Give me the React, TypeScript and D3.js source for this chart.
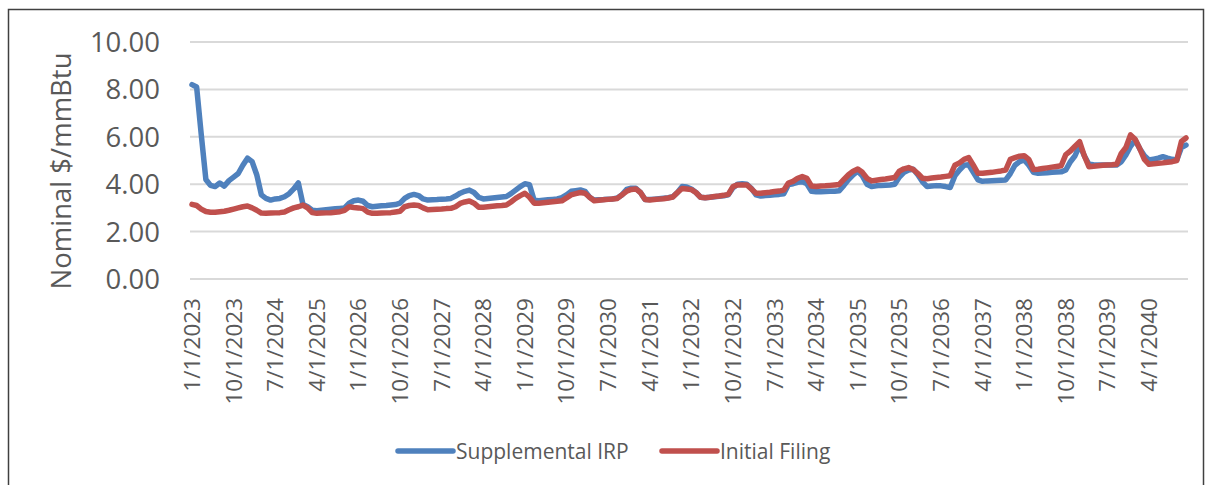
import React, { useEffect, useRef } from "react";
import * as d3 from "d3";

// monthly prices, Jan 2023 .. Dec 2040 (one row per year)
const supplementalIRP: number[] = [
  8.2, 8.1, 6.1, 4.2, 3.95, 3.9, 4.05, 3.92, 4.15, 4.3, 4.45, 4.8,
  5.1, 4.95, 4.4, 3.55, 3.4, 3.33, 3.38, 3.4, 3.47, 3.6, 3.8, 4.05,
  3.15, 3.05, 2.9, 2.88, 2.9, 2.92, 2.94, 2.96, 2.98, 3.0, 3.2, 3.3,
  3.33, 3.28, 3.1, 3.05, 3.07, 3.09, 3.1, 3.12, 3.14, 3.2, 3.4, 3.52,
  3.57, 3.52, 3.38, 3.33, 3.34, 3.35, 3.37, 3.38, 3.4, 3.5, 3.62, 3.7,
  3.75, 3.65, 3.45, 3.38, 3.4, 3.42, 3.44, 3.46, 3.48, 3.6, 3.75, 3.9,
  4.02, 3.98, 3.32, 3.3, 3.32, 3.34, 3.36, 3.38, 3.43, 3.55, 3.7, 3.73,
  3.76, 3.7, 3.45, 3.33, 3.34, 3.35, 3.37, 3.38, 3.42, 3.55, 3.78, 3.83,
  3.83, 3.65, 3.35, 3.35, 3.37, 3.39, 3.41, 3.43, 3.47, 3.65, 3.9, 3.88,
  3.8, 3.65, 3.45, 3.43, 3.45, 3.47, 3.49, 3.51, 3.55, 3.85, 4.0, 4.02,
  4.0, 3.82, 3.55, 3.5, 3.52, 3.53, 3.55, 3.57, 3.6, 3.98, 4.02, 4.08,
  4.1, 4.02, 3.7, 3.68, 3.68, 3.69, 3.7, 3.7, 3.72, 3.95, 4.2, 4.4,
  4.55, 4.35, 4.0, 3.9, 3.93, 3.95, 3.96, 3.97, 4.0, 4.3, 4.5, 4.6,
  4.63, 4.4, 4.1, 3.9, 3.92, 3.94, 3.93, 3.9, 3.86, 4.35, 4.6, 4.8,
  4.82, 4.5, 4.18, 4.12, 4.14, 4.15, 4.16, 4.17, 4.18, 4.45, 4.8, 4.95,
  5.02, 4.8, 4.5, 4.46, 4.47, 4.48, 4.5, 4.51, 4.52, 4.6, 4.95, 5.2,
  5.65, 5.2, 4.84, 4.82, 4.81, 4.81, 4.81, 4.81, 4.81, 4.95, 5.23, 5.6,
  5.86, 5.5, 5.2, 5.02, 5.06, 5.1, 5.16, 5.1, 5.05, 5.02, 5.55, 5.65,
];

const initialFiling: number[] = [
  3.15, 3.1, 2.95, 2.85, 2.82, 2.82, 2.84, 2.86, 2.9, 2.95, 3.0, 3.05,
  3.08, 3.0, 2.9, 2.78, 2.77, 2.78, 2.79, 2.8, 2.83, 2.92, 3.0, 3.05,
  3.12, 3.0, 2.8, 2.77, 2.78, 2.79, 2.8, 2.82, 2.84, 2.9, 3.05, 3.02,
  3.0, 2.97, 2.82, 2.77, 2.77, 2.78, 2.79, 2.8, 2.83, 2.86, 3.05, 3.1,
  3.12, 3.1, 3.0, 2.92, 2.93, 2.94, 2.95, 2.97, 2.98, 3.05, 3.19, 3.25,
  3.29, 3.2, 3.03, 3.03, 3.05, 3.07, 3.09, 3.1, 3.12, 3.25, 3.4, 3.52,
  3.62, 3.45, 3.2, 3.2, 3.22, 3.24, 3.26, 3.28, 3.3, 3.42, 3.55, 3.6,
  3.65, 3.62, 3.45, 3.3, 3.32, 3.34, 3.36, 3.38, 3.4, 3.55, 3.7, 3.78,
  3.8, 3.65, 3.35, 3.33, 3.35, 3.37, 3.39, 3.42, 3.46, 3.65, 3.82, 3.8,
  3.77, 3.65, 3.45, 3.43, 3.45, 3.48, 3.5, 3.53, 3.57, 3.9, 3.97, 3.97,
  3.97, 3.8, 3.62, 3.62, 3.64, 3.66, 3.69, 3.71, 3.75, 4.05, 4.12, 4.25,
  4.32, 4.25, 3.92, 3.9, 3.92, 3.93, 3.95, 3.97, 3.99, 4.2, 4.4, 4.55,
  4.64, 4.5, 4.25, 4.14, 4.17, 4.2, 4.22, 4.25, 4.28, 4.55, 4.65, 4.7,
  4.62, 4.45, 4.25, 4.23, 4.26, 4.28, 4.3, 4.33, 4.36, 4.8, 4.9, 5.05,
  5.12, 4.8, 4.46, 4.46, 4.48, 4.5, 4.53, 4.56, 4.6, 5.05, 5.12, 5.18,
  5.2, 5.05, 4.62, 4.63, 4.66, 4.69, 4.72, 4.75, 4.78, 5.25, 5.4, 5.6,
  5.79, 5.2, 4.74, 4.76, 4.78, 4.8, 4.81, 4.82, 4.84, 5.3, 5.55, 6.08,
  5.9, 5.5, 5.05, 4.84, 4.86, 4.88, 4.9, 4.93, 4.95, 5.0, 5.8, 5.95,
];

const yTicks = [0, 2, 4, 6, 8, 10];
const seriesNames = ["Supplemental IRP", "Initial Filing"];
const seriesColors = ["#4f81bd", "#c0504d"];

// category labels: first of each month
const months: string[] = [];
for (let y = 2023; y <= 2040; y++) {
  for (let m = 1; m <= 12; m++) months.push(`${m}/1/${y}`);
}
const tickLabels = months.filter((d, i) => i % 9 === 0);

const FONT = "'Open Sans', sans-serif";
const TEXT = "#595959";

export default function App() {
  const ref = useRef<SVGSVGElement>(null);

  useEffect(() => {
    const svg = d3.select(ref.current);
    svg.selectAll("*").remove();

    const x = d3.scalePoint<string>().domain(months).range([192, 1186]);
    const y = d3.scaleLinear().domain([0, 10]).range([279, 42]);

    // frame
    svg.append("rect")
      .attr("x", 8.5).attr("y", 9.5)
      .attr("width", 1195).attr("height", 500)
      .attr("fill", "white").attr("stroke", "#404040").attr("stroke-width", 1.5);

    // gridlines
    svg.selectAll(".grid").data(yTicks).join("line").attr("class", "grid")
      .attr("x1", 190).attr("x2", 1188)
      .attr("y1", d => y(d)).attr("y2", d => y(d))
      .attr("stroke", "#d9d9d9").attr("stroke-width", 2);

    // y tick labels
    svg.selectAll(".ylab").data(yTicks).join("text").attr("class", "ylab")
      .attr("x", 160).attr("y", d => y(d))
      .attr("dy", "0.36em")
      .attr("text-anchor", "end")
      .style("font-family", FONT).style("font-size", "27.5px").attr("fill", TEXT)
      .text(d => d.toFixed(2));

    // y title
    svg.append("text")
      .attr("transform", `translate(71, 171) rotate(-90)`)
      .attr("text-anchor", "middle")
      .style("font-family", FONT).style("font-size", "27.5px").attr("fill", TEXT)
      .text("Nominal $/mmBtu");

    // x tick labels
    svg.selectAll(".xlab").data(tickLabels).join("text").attr("class", "xlab")
      .attr("transform", d => `translate(${(x(d) as number) + 8}, 298) rotate(-90)`)
      .attr("text-anchor", "end")
      .style("font-family", FONT).style("font-size", "22.5px").attr("fill", TEXT)
      .text(d => d);

    // lines
    const line = d3.line<number>()
      .x((d, i) => x(months[i]) as number)
      .y(d => y(d));

    [supplementalIRP, initialFiling].forEach((vals, k) => {
      svg.append("path")
        .datum(vals)
        .attr("d", line)
        .attr("fill", "none")
        .attr("stroke", seriesColors[k])
        .attr("stroke-width", 5.5)
        .attr("stroke-linejoin", "round")
        .attr("stroke-linecap", "round");
    });

    // legend
    const legendX = [398, 662];
    seriesNames.forEach((name, k) => {
      svg.append("line")
        .attr("x1", legendX[k]).attr("x2", legendX[k] + 55)
        .attr("y1", 451).attr("y2", 451)
        .attr("stroke", seriesColors[k]).attr("stroke-width", 5.5)
        .attr("stroke-linecap", "round");
      svg.append("text")
        .attr("x", legendX[k] + 58).attr("y", 451).attr("dy", "0.36em")
        .style("font-family", FONT).style("font-size", "21px").attr("fill", TEXT)
        .text(name);
    });
  }, []);

  return (
    <svg ref={ref} width={1207} height={485}
      style={{ position: "absolute", left: 0, top: 0, display: "block" }} />
  );
}
